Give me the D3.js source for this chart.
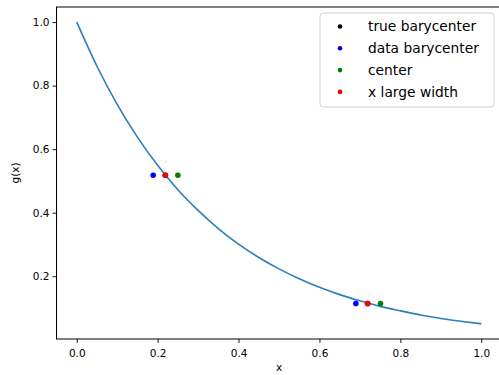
<!DOCTYPE html>
<html>
<head>
<meta charset="utf-8">
<script src="https://cdn.jsdelivr.net/npm/d3@7"></script>
<style>
    body { margin: 0; background: #fff; }
    svg { display: block; font-family: 'DejaVu Sans', sans-serif; }
</style>
</head>
<body>
<svg id="chart"></svg>
<script>
// Curve g(x) at steps of 0.05.
const curveX = [0, 0.05, 0.1, 0.15, 0.2, 0.25, 0.3, 0.35, 0.4, 0.45, 0.5,
    0.55, 0.6, 0.65, 0.7, 0.75, 0.8, 0.85, 0.9, 0.95, 1.0];
const curveY = [1.0, 0.861, 0.741, 0.638, 0.549, 0.472, 0.407, 0.35, 0.301, 0.259, 0.223,
    0.192, 0.165, 0.142, 0.1225, 0.105, 0.091, 0.078, 0.067, 0.058, 0.05];

// Marker series (two points each).
const seriesNames = ['true barycenter', 'data barycenter', 'center', 'x large width'];
const seriesColors = ['black', 'blue', 'green', 'red'];
const trueBaryX = [0.219, 0.719];
const trueBaryY = [0.518, 0.114];
const dataBaryX = [0.189, 0.69];
const dataBaryY = [0.518, 0.114];
const centerX = [0.25, 0.751];
const centerY = [0.518, 0.114];
const largeWidthX = [0.219, 0.719];
const largeWidthY = [0.518, 0.114];

const xTicks = [0, 0.2, 0.4, 0.6, 0.8, 1.0];
const yTicks = [0.2, 0.4, 0.6, 0.8, 1.0];

const width = 499, height = 375;
const svg = d3.select('#chart').attr('width', width).attr('height', height);

const x = d3.scaleLinear().domain([-0.05, 1.05]).range([56.5, 501.5]);
const y = d3.scaleLinear().domain([0.0023, 1.0475]).range([339, 7]);

// Axes
const xAxis = svg.append('g')
    .attr('transform', `translate(0, ${y.range()[0]})`)
    .call(d3.axisBottom(x).tickValues(xTicks).tickFormat(d3.format('.1f')).tickSizeOuter(0).tickSize(4));
const yAxis = svg.append('g')
    .attr('transform', `translate(${x.range()[0]}, 0)`)
    .call(d3.axisLeft(y).tickValues(yTicks).tickFormat(d3.format('.1f')).tickSizeOuter(0).tickSize(4));
[xAxis, yAxis].forEach(a => {
    a.select('.domain').remove();
    a.selectAll('text').attr('font-size', '10.5px').attr('fill', '#000').attr('font-family', 'DejaVu Sans');
    a.selectAll('line').attr('stroke', '#000').attr('stroke-width', 0.9);
});
xAxis.selectAll('text').attr('dy', '1.05em');

// Frame
svg.append('rect')
    .attr('x', x.range()[0]).attr('y', y.range()[1])
    .attr('width', x.range()[1] - x.range()[0])
    .attr('height', y.range()[0] - y.range()[1])
    .attr('fill', 'none').attr('stroke', '#000').attr('stroke-width', 1);

// Axis labels
svg.append('text')
    .attr('x', (x(0) + x(1)) / 2).attr('y', 371)
    .attr('text-anchor', 'middle').attr('font-size', '10.5px')
    .text('x');
svg.append('text')
    .attr('transform', `translate(19, ${(y(0.0023) + y(1.0475)) / 2}) rotate(-90)`)
    .attr('text-anchor', 'middle').attr('font-size', '10.5px')
    .text('g(x)');

// Curve
const line = d3.line().x(d => x(d[0])).y(d => y(d[1])).curve(d3.curveMonotoneX);
svg.append('path')
    .datum(curveX.map((v, i) => [v, curveY[i]]))
    .attr('d', line)
    .attr('fill', 'none').attr('stroke', '#2a7fbb').attr('stroke-width', 1.6);

// Markers
const seriesX = [trueBaryX, dataBaryX, centerX, largeWidthX];
const seriesY = [trueBaryY, dataBaryY, centerY, largeWidthY];
seriesX.forEach((xs, s) => {
    svg.append('g').selectAll('circle')
        .data(xs.map((v, i) => [v, seriesY[s][i]]))
        .enter()
        .append('circle')
        .attr('cx', d => x(d[0]))
        .attr('cy', d => y(d[1]))
        .attr('r', 2.8)
        .attr('fill', seriesColors[s]);
});

// Legend
const legend = svg.append('g').attr('transform', 'translate(320, 13)');
legend.append('rect')
    .attr('width', 174).attr('height', 94).attr('rx', 3)
    .attr('fill', 'rgba(255,255,255,0.8)').attr('stroke', '#d0d0d0').attr('stroke-width', 1);
seriesNames.forEach((name, i) => {
    const row = legend.append('g').attr('transform', `translate(0, ${13.5 + i * 21.8})`);
    row.append('circle').attr('cx', 20).attr('cy', 0).attr('r', 2.3).attr('fill', seriesColors[i]);
    row.append('text').attr('x', 48).attr('y', 0).attr('dy', '0.35em')
        .attr('font-size', '13.8px').text(name);
});
</script>
</body>
</html>
